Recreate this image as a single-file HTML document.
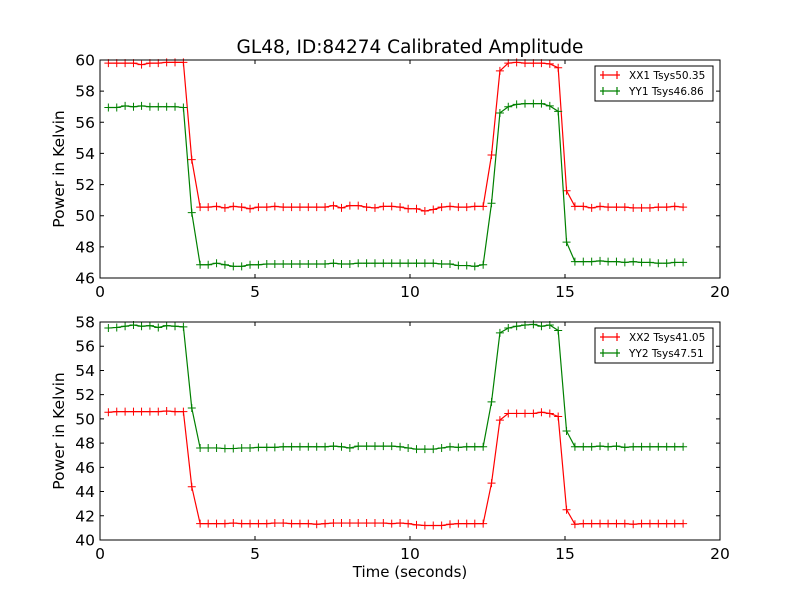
<!DOCTYPE html>
<html><head><meta charset="utf-8"><style>
body{margin:0;background:#fff;}
svg{display:block;font-family:"DejaVu Sans","Liberation Sans",sans-serif;}
</style></head><body>
<svg id="fig" width="800" height="600" viewBox="0 0 800 600">
<rect width="800" height="600" fill="#fff"/>
<text x="410" y="53" font-size="18.5" text-anchor="middle">GL48, ID:84274 Calibrated Amplitude</text>
<g id="top"></g>
<g id="bot"></g>
<text x="410" y="577" font-size="15" text-anchor="middle">Time (seconds)</text>
</svg>
<script>
const times=[0.27,0.54,0.81,1.08,1.34,1.61,1.88,2.15,2.42,2.69,2.96,3.23,3.49,3.76,4.03,4.30,4.57,4.84,5.11,5.38,5.64,5.91,6.18,6.45,6.72,6.99,7.26,7.53,7.79,8.06,8.33,8.60,8.87,9.14,9.41,9.68,9.94,10.21,10.48,10.75,11.02,11.29,11.56,11.83,12.09,12.36,12.63,12.90,13.17,13.44,13.71,13.98,14.24,14.51,14.78,15.05,15.32,15.59,15.86,16.13,16.39,16.66,16.93,17.20,17.47,17.74,18.01,18.28,18.54,18.81];
const xx1=[59.8,59.8,59.8,59.8,59.7,59.8,59.8,59.85,59.85,59.85,53.6,
50.55,50.55,50.6,50.5,50.6,50.55,50.45,50.55,50.55,50.6,50.55,50.55,50.55,50.55,50.55,50.55,50.65,50.5,50.65,50.65,50.55,50.5,50.6,50.6,50.55,50.45,50.45,50.3,50.4,50.55,50.6,50.55,50.55,50.6,50.6,
53.9,59.3,59.8,59.85,59.8,59.8,59.8,59.75,59.5,51.6,
50.6,50.6,50.5,50.6,50.55,50.55,50.55,50.5,50.5,50.5,50.55,50.55,50.6,50.55];
const yy1=[56.95,56.95,57.05,57.0,57.05,57.0,57.0,57.0,57.0,56.95,50.2,
46.85,46.85,46.95,46.85,46.75,46.75,46.85,46.85,46.9,46.9,46.9,46.9,46.9,46.9,46.9,46.9,46.95,46.9,46.9,46.95,46.95,46.95,46.95,46.95,46.95,46.95,46.95,46.95,46.95,46.9,46.9,46.8,46.8,46.75,46.85,
50.8,56.6,57.0,57.15,57.2,57.2,57.2,57.05,56.7,48.3,
47.05,47.05,47.05,47.1,47.05,47.05,47.0,47.05,47.0,47.0,46.95,46.95,47.0,47.0];
const xx2=[50.55,50.6,50.6,50.6,50.6,50.6,50.6,50.65,50.6,50.6,44.4,
41.35,41.35,41.35,41.35,41.4,41.35,41.35,41.35,41.35,41.4,41.4,41.35,41.35,41.35,41.3,41.35,41.4,41.4,41.4,41.4,41.4,41.4,41.4,41.35,41.4,41.35,41.25,41.2,41.2,41.2,41.3,41.35,41.35,41.35,41.35,
44.7,49.9,50.45,50.45,50.45,50.45,50.55,50.45,50.2,42.5,
41.3,41.35,41.35,41.35,41.35,41.35,41.35,41.3,41.35,41.35,41.35,41.35,41.35,41.35];
const yy2=[57.5,57.55,57.65,57.75,57.65,57.7,57.55,57.7,57.65,57.6,50.9,
47.6,47.6,47.6,47.55,47.55,47.6,47.6,47.65,47.65,47.65,47.7,47.7,47.7,47.7,47.7,47.7,47.75,47.7,47.6,47.75,47.75,47.75,47.75,47.75,47.7,47.6,47.5,47.5,47.5,47.6,47.7,47.65,47.7,47.7,47.7,
51.4,57.1,57.5,57.65,57.75,57.8,57.65,57.75,57.3,49.0,
47.7,47.7,47.7,47.75,47.7,47.75,47.65,47.7,47.7,47.7,47.7,47.7,47.7,47.7];
const xTicks=[0,5,10,15,20];
const yTicksTop=[46,48,50,52,54,56,58,60];
const yTicksBot=[40,42,44,46,48,50,52,54,56,58];
const legendTop=["XX1 Tsys50.35","YY1 Tsys46.86"];
const legendBot=["XX2 Tsys41.05","YY2 Tsys47.51"];

const NS="http://www.w3.org/2000/svg";
function mk(parent,tag,attrs){const e=document.createElementNS(NS,tag);for(const k in attrs)e.setAttribute(k,attrs[k]);parent.appendChild(e);return e;}

function panel(g,top,bottom,ymin,ymax,yTicks,series,labels,prefix){
  const L=100,R=720;
  const sx=v=>L+(v-0)/(20-0)*(R-L);
  const sy=v=>bottom-(v-ymin)/(ymax-ymin)*(bottom-top);
  const cols=["#ff0000","#008000"];
  series.forEach((s,si)=>{
    const pts=s.map((v,i)=>sx(times[i]).toFixed(2)+","+sy(v).toFixed(2)).join(" ");
    const pl=mk(g,"polyline",{points:pts,fill:"none",stroke:cols[si],"stroke-width":1.2});
    
    
    let d="";
    s.forEach((v,i)=>{const x=sx(times[i]),y=sy(v);d+=`M${x-4},${y}h8M${x},${y-4}v8`;});
    const mp=mk(g,"path",{d:d,stroke:cols[si],"stroke-width":1,fill:"none"});
    
    
  });
  const fr=mk(g,"rect",{x:L,y:top,width:R-L,height:bottom-top,fill:"none",stroke:"#000","stroke-width":1});
  
  
  xTicks.forEach(t=>{
    const x=sx(t);
    mk(g,"path",{d:`M${x},${bottom}v-4M${x},${top}v4`,stroke:"#000"});
    const tx=mk(g,"text",{x:x,y:bottom+19,"font-size":15.5,"text-anchor":"middle"});
    tx.textContent=t;
    
    
  });
  yTicks.forEach(t=>{
    const y=sy(t);
    mk(g,"path",{d:`M${L},${y}h4M${R},${y}h-4`,stroke:"#000"});
    const tx=mk(g,"text",{x:L-5,y:y+5.5,"font-size":15.5,"text-anchor":"end"});
    tx.textContent=t;
    
    
  });
  const yl=mk(g,"text",{x:0,y:0,"font-size":15.5,"text-anchor":"middle",transform:`translate(64,${(top+bottom)/2}) rotate(-90)`});
  yl.textContent="Power in Kelvin";
  
  
  const lg=mk(g,"g",{});
  
  
  mk(lg,"rect",{x:595,y:top+6,width:118,height:35,fill:"#fff",stroke:"#000","stroke-width":1});
  labels.forEach((lab,i)=>{
    const y=top+15+i*16;
    mk(lg,"path",{d:`M600,${y}h20M606,${y}h-4M603,${y-4}v8M617,${y-4}v8`,stroke:cols[i],"stroke-width":1.2});
    const tx=mk(lg,"text",{x:629,y:y+4,"font-size":10.5});
    tx.textContent=lab;
    
    
  });
}
panel(document.getElementById("top"),60,278,46,60,yTicksTop,[xx1,yy1],legendTop,"top");
panel(document.getElementById("bot"),322,540,40,58,yTicksBot,[xx2,yy2],legendBot,"bottom");
</script>
</body></html>
